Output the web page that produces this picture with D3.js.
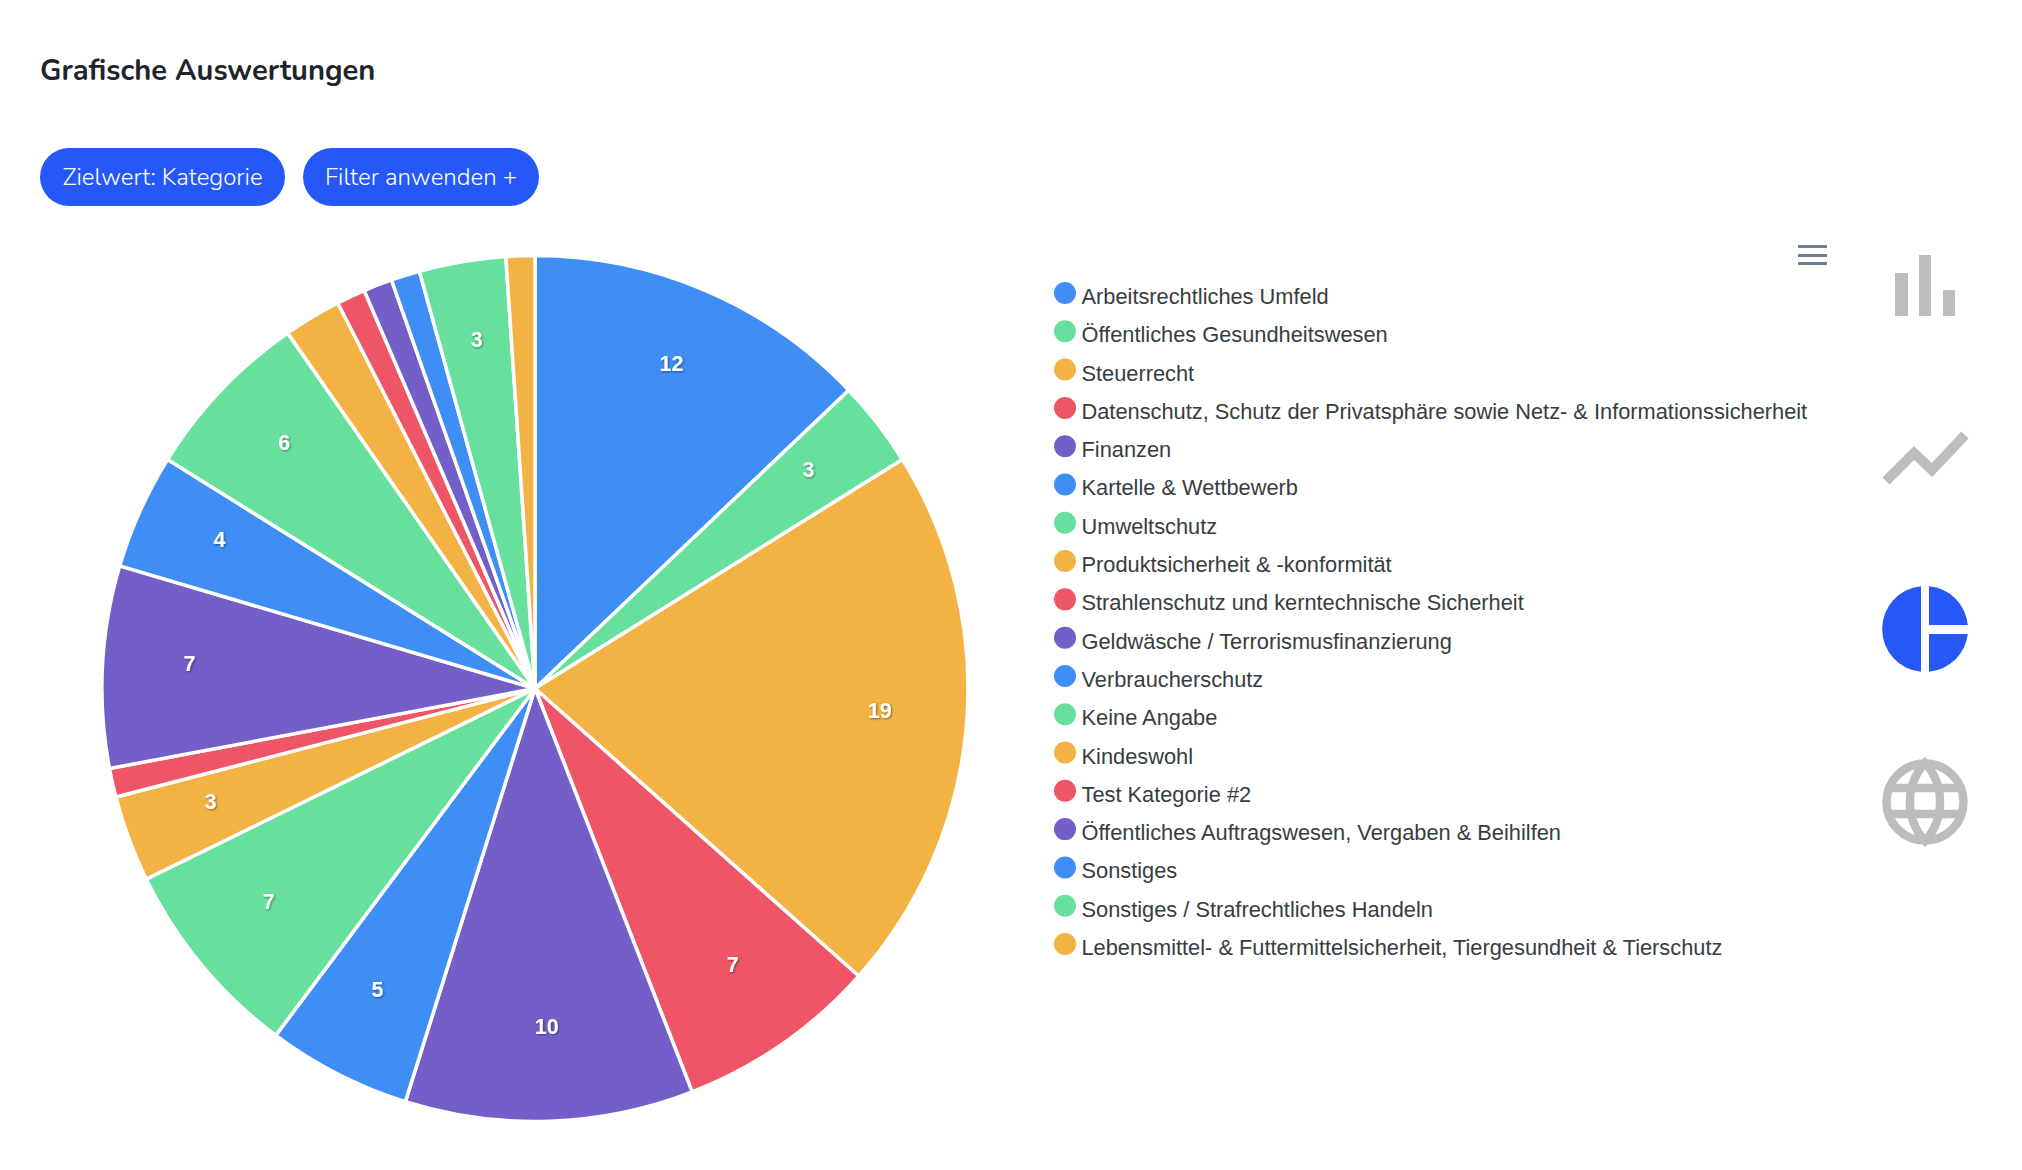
<!DOCTYPE html>
<html lang="de">

<head>
    <title>Grafische Auswertungen</title>
    <meta charset="utf-8">
    <script src="https://d3js.org/d3.v7.min.js"></script>
    <style>
        html, body { margin: 0; padding: 0; background: #fff; overflow: hidden; }
        svg { display: block; }
    </style>
</head>

<body>
    <div id="container"></div>
    <script>
        // Data
        const categories = [
            "Arbeitsrechtliches Umfeld",
            "Öffentliches Gesundheitswesen",
            "Steuerrecht",
            "Datenschutz, Schutz der Privatsphäre sowie Netz- & Informationssicherheit",
            "Finanzen",
            "Kartelle & Wettbewerb",
            "Umweltschutz",
            "Produktsicherheit & -konformität",
            "Strahlenschutz und kerntechnische Sicherheit",
            "Geldwäsche / Terrorismusfinanzierung",
            "Verbraucherschutz",
            "Keine Angabe",
            "Kindeswohl",
            "Test Kategorie #2",
            "Öffentliches Auftragswesen, Vergaben & Beihilfen",
            "Sonstiges",
            "Sonstiges / Strafrechtliches Handeln",
            "Lebensmittel- & Futtermittelsicherheit, Tiergesundheit & Tierschutz"
        ];
        const values = [12, 3, 19, 7, 10, 5, 7, 3, 1, 7, 4, 6, 2, 1, 1, 1, 3, 1];
        const palette = ["#3e8ef5", "#67e09e", "#f3b244", "#ee5566", "#745fc9"];
        const buttons = ["Zielwert: Kategorie", "Filter anwenden +"];

        const width = 2022;
        const height = 1170;
        const blue = "#2558f6";
        const grey = "#bdbdbd";
        const headFont = "Nunito, Lato, 'Open Sans', sans-serif";
        const chartFont = "'Liberation Sans', Helvetica, Arial, sans-serif";

        const svg = d3.select("#container")
            .append("svg")
            .attr("width", width)
            .attr("height", height);

        // Drop shadow of the slice labels
        const shadow = svg.append("defs")
            .append("filter")
            .attr("id", "label-shadow")
            .attr("x", "-50%").attr("y", "-50%")
            .attr("width", "200%").attr("height", "200%");
        shadow.append("feDropShadow")
            .attr("dx", 1).attr("dy", 1)
            .attr("stdDeviation", 1)
            .attr("flood-color", "#000")
            .attr("flood-opacity", 0.45);

        // Header
        svg.append("text")
            .attr("x", 40)
            .attr("y", 80)
            .attr("font-family", headFont)
            .attr("font-size", 29.1)
            .attr("font-weight", 700)
            .attr("fill", "#212529")
            .text("Grafische Auswertungen");

        const buttonX = [40, 303];
        const buttonW = [245, 236];
        const btn = svg.selectAll("g.button")
            .data(buttons)
            .enter()
            .append("g")
            .attr("class", "button")
            .attr("transform", (d, i) => `translate(${buttonX[i]},148)`);
        btn.append("rect")
            .attr("width", (d, i) => buttonW[i])
            .attr("height", 58)
            .attr("rx", 29)
            .attr("fill", blue);
        btn.append("text")
            .attr("x", (d, i) => buttonW[i] / 2)
            .attr("y", 37)
            .attr("text-anchor", "middle")
            .attr("font-family", headFont)
            .attr("font-size", 24)
            .attr("font-weight", 300)
            .attr("fill", "#fff")
            .text(d => d);

        // Pie
        const cx = 535;
        const cy = 688.5;
        const radius = 433;
        const color = d3.scaleOrdinal().domain(categories).range(palette);
        const arcs = d3.pie().sort(null)(values);
        const arc = d3.arc().innerRadius(0).outerRadius(radius);
        const labelArc = d3.arc().innerRadius(346).outerRadius(346);

        const pie = svg.append("g").attr("transform", `translate(${cx},${cy})`);

        pie.selectAll("path")
            .data(arcs)
            .enter()
            .append("path")
            .attr("d", arc)
            .attr("fill", (d, i) => color(categories[i]))
            .attr("stroke", "#fff")
            .attr("stroke-width", 3.5);

        // Slices under 10 degrees get no label
        pie.selectAll("text")
            .data(arcs.filter(d => (d.endAngle - d.startAngle) * 180 / Math.PI >= 10))
            .enter()
            .append("text")
            .attr("transform", d => `translate(${labelArc.centroid(d)})`)
            .attr("y", -7)
            .attr("text-anchor", "middle")
            .attr("dominant-baseline", "central")
            .attr("font-family", chartFont)
            .attr("font-size", 21.5)
            .attr("font-weight", 700)
            .attr("fill", "#fff")
            .attr("filter", "url(#label-shadow)")
            .text(d => d.data);

        // Legend
        const legendY = d3.scalePoint()
            .domain(categories)
            .range([293, 944]);

        const legend = svg.selectAll("g.legend")
            .data(categories)
            .enter()
            .append("g")
            .attr("class", "legend")
            .attr("transform", d => `translate(1065,${legendY(d)})`);
        legend.append("circle")
            .attr("r", 11)
            .attr("fill", d => color(d));
        legend.append("text")
            .attr("x", 16.5)
            .attr("y", 11)
            .attr("font-family", chartFont)
            .attr("font-size", 21.8)
            .attr("fill", "#373d3f")
            .text(d => d);

        // Toolbar menu
        svg.append("g")
            .selectAll("rect")
            .data([245, 254, 262])
            .enter()
            .append("rect")
            .attr("x", 1798)
            .attr("y", d => d)
            .attr("width", 29)
            .attr("height", 3)
            .attr("fill", "#6e8192");

        // Chart type icons
        const barIcon = svg.append("g").attr("fill", grey);
        barIcon.append("rect").attr("x", 1895).attr("y", 273).attr("width", 13).attr("height", 43);
        barIcon.append("rect").attr("x", 1919).attr("y", 255).attr("width", 12).attr("height", 61);
        barIcon.append("rect").attr("x", 1943).attr("y", 290).attr("width", 12).attr("height", 26);

        svg.append("path")
            .attr("d", "M1886,481L1914,453L1932,470L1965,435")
            .attr("fill", "none")
            .attr("stroke", grey)
            .attr("stroke-width", 10);

        const pieIcon = svg.append("g").attr("fill", blue);
        pieIcon.append("path").attr("d", "M1921,586.2A43,43 0 0 0 1921,671.8Z");
        pieIcon.append("path").attr("d", "M1929,586.2A43,43 0 0 1 1967.8,625H1929Z");
        pieIcon.append("path").attr("d", "M1929,671.8A43,43 0 0 0 1967.8,634H1929Z");

        const globe = svg.append("g").attr("fill", "none").attr("stroke", grey).attr("stroke-width", 8.5);
        globe.append("circle").attr("cx", 1925).attr("cy", 802).attr("r", 38.5);
        globe.append("path").attr("d", "M1925,763A58,58 0 0 0 1925,841A58,58 0 0 0 1925,763Z");
        globe.append("path").attr("d", "M1891,788H1959M1891,814H1959");
    </script>
</body>

</html>
